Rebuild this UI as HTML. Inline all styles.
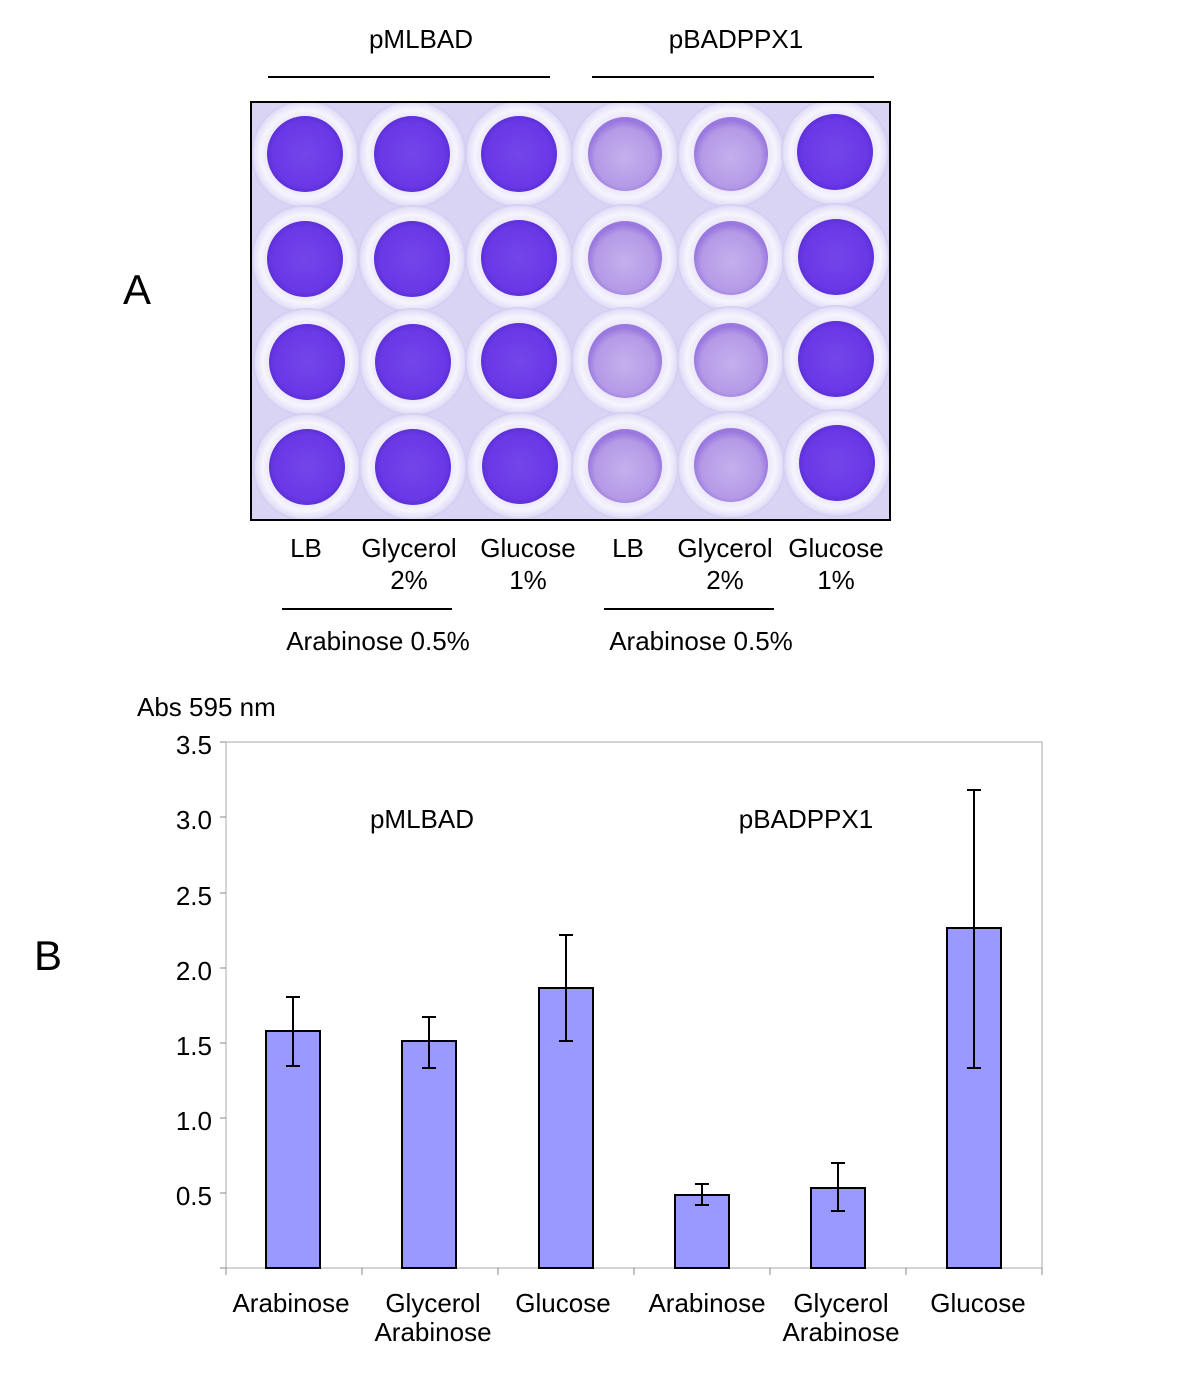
<!DOCTYPE html>
<html><head><meta charset="utf-8"><style>
html,body{margin:0;padding:0;background:#fff;}
svg{display:block;}
text{font-family:"Liberation Sans",Arial,sans-serif;fill:#000;}
</style></head><body>
<svg width="1200" height="1378" viewBox="0 0 1200 1378" xmlns="http://www.w3.org/2000/svg">
<defs>
<radialGradient id="dark" cx="50%" cy="50%" r="50%">
<stop offset="0" stop-color="#7445ea"/><stop offset="0.85" stop-color="#6a38e6"/><stop offset="1" stop-color="#5d30d8"/>
</radialGradient>
<radialGradient id="light" cx="50%" cy="55%" r="50%">
<stop offset="0" stop-color="#c4b0ee"/><stop offset="0.8" stop-color="#b49ae6"/><stop offset="1" stop-color="#9a78e0"/>
</radialGradient>
<radialGradient id="ring" cx="50%" cy="50%" r="50%">
<stop offset="0.65" stop-color="#e8e4f8"/><stop offset="0.82" stop-color="#f6f4fd"/><stop offset="0.95" stop-color="#e4dff8"/><stop offset="1" stop-color="#cfc8f0"/>
</radialGradient>
<clipPath id="plate"><rect x="251" y="102" width="639" height="418"/></clipPath>
</defs>
<text x="421" y="48" font-size="26" text-anchor="middle">pMLBAD</text>
<text x="736" y="48" font-size="26" text-anchor="middle">pBADPPX1</text>
<line x1="268" y1="77" x2="550" y2="77" stroke="#000" stroke-width="2"/>
<line x1="592" y1="77" x2="874" y2="77" stroke="#000" stroke-width="2"/>
<text x="137" y="304" font-size="42" text-anchor="middle">A</text>
<rect x="251" y="102" width="639" height="418" fill="#d9d4f3" stroke="#000" stroke-width="2"/>
<g clip-path="url(#plate)">
<circle cx="305" cy="154" r="54" fill="url(#ring)"/><circle cx="412" cy="154" r="54" fill="url(#ring)"/><circle cx="519" cy="154" r="54" fill="url(#ring)"/><circle cx="625" cy="154" r="54" fill="url(#ring)"/><circle cx="731" cy="154" r="54" fill="url(#ring)"/><circle cx="835" cy="152" r="54" fill="url(#ring)"/>
<circle cx="305" cy="259" r="54" fill="url(#ring)"/><circle cx="412" cy="259" r="54" fill="url(#ring)"/><circle cx="519" cy="258" r="54" fill="url(#ring)"/><circle cx="625" cy="258" r="54" fill="url(#ring)"/><circle cx="731" cy="258" r="54" fill="url(#ring)"/><circle cx="836" cy="257" r="54" fill="url(#ring)"/>
<circle cx="307" cy="362" r="54" fill="url(#ring)"/><circle cx="413" cy="362" r="54" fill="url(#ring)"/><circle cx="519" cy="361" r="54" fill="url(#ring)"/><circle cx="625" cy="361" r="54" fill="url(#ring)"/><circle cx="731" cy="360" r="54" fill="url(#ring)"/><circle cx="836" cy="359" r="54" fill="url(#ring)"/>
<circle cx="307" cy="467" r="54" fill="url(#ring)"/><circle cx="413" cy="467" r="54" fill="url(#ring)"/><circle cx="520" cy="466" r="54" fill="url(#ring)"/><circle cx="625" cy="466" r="54" fill="url(#ring)"/><circle cx="731" cy="465" r="54" fill="url(#ring)"/><circle cx="837" cy="463" r="54" fill="url(#ring)"/>

<circle cx="305" cy="154" r="38" fill="url(#dark)"/><circle cx="412" cy="154" r="38" fill="url(#dark)"/><circle cx="519" cy="154" r="38" fill="url(#dark)"/><circle cx="625" cy="154" r="37" fill="url(#light)"/><circle cx="731" cy="154" r="37" fill="url(#light)"/><circle cx="835" cy="152" r="38" fill="url(#dark)"/>
<circle cx="305" cy="259" r="38" fill="url(#dark)"/><circle cx="412" cy="259" r="38" fill="url(#dark)"/><circle cx="519" cy="258" r="38" fill="url(#dark)"/><circle cx="625" cy="258" r="37" fill="url(#light)"/><circle cx="731" cy="258" r="37" fill="url(#light)"/><circle cx="836" cy="257" r="38" fill="url(#dark)"/>
<circle cx="307" cy="362" r="38" fill="url(#dark)"/><circle cx="413" cy="362" r="38" fill="url(#dark)"/><circle cx="519" cy="361" r="38" fill="url(#dark)"/><circle cx="625" cy="361" r="37" fill="url(#light)"/><circle cx="731" cy="360" r="37" fill="url(#light)"/><circle cx="836" cy="359" r="38" fill="url(#dark)"/>
<circle cx="307" cy="467" r="38" fill="url(#dark)"/><circle cx="413" cy="467" r="38" fill="url(#dark)"/><circle cx="520" cy="466" r="38" fill="url(#dark)"/><circle cx="625" cy="466" r="37" fill="url(#light)"/><circle cx="731" cy="465" r="37" fill="url(#light)"/><circle cx="837" cy="463" r="38" fill="url(#dark)"/>
</g>
<rect x="251" y="102" width="639" height="418" fill="none" stroke="#000" stroke-width="2"/>
<g font-size="26" text-anchor="middle">
<text x="306" y="557">LB</text>
<text x="409" y="557">Glycerol</text><text x="409" y="589">2%</text>
<text x="528" y="557">Glucose</text><text x="528" y="589">1%</text>
<text x="628" y="557">LB</text>
<text x="725" y="557">Glycerol</text><text x="725" y="589">2%</text>
<text x="836" y="557">Glucose</text><text x="836" y="589">1%</text>
<text x="378" y="650">Arabinose 0.5%</text>
<text x="701" y="650">Arabinose 0.5%</text>
</g>
<line x1="282" y1="609" x2="452" y2="609" stroke="#000" stroke-width="2"/>
<line x1="604" y1="609" x2="774" y2="609" stroke="#000" stroke-width="2"/>

<text x="48" y="970" font-size="42" text-anchor="middle">B</text>
<text x="137" y="716" font-size="26">Abs 595 nm</text>
<rect x="226" y="742" width="816" height="526" fill="none" stroke="#a8a8a8" stroke-width="1"/>
<g stroke="#888" stroke-width="1">
<line x1="220" y1="742" x2="226" y2="742"/><line x1="220" y1="817" x2="226" y2="817"/><line x1="220" y1="893" x2="226" y2="893"/><line x1="220" y1="968" x2="226" y2="968"/><line x1="220" y1="1043" x2="226" y2="1043"/><line x1="220" y1="1118" x2="226" y2="1118"/><line x1="220" y1="1193" x2="226" y2="1193"/><line x1="220" y1="1268" x2="226" y2="1268"/>
<line x1="226" y1="1268" x2="226" y2="1275"/><line x1="362" y1="1268" x2="362" y2="1275"/><line x1="498" y1="1268" x2="498" y2="1275"/><line x1="634" y1="1268" x2="634" y2="1275"/><line x1="770" y1="1268" x2="770" y2="1275"/><line x1="906" y1="1268" x2="906" y2="1275"/><line x1="1042" y1="1268" x2="1042" y2="1275"/>
</g>
<g font-size="26" text-anchor="end">
<text x="212" y="754">3.5</text><text x="212" y="829">3.0</text><text x="212" y="905">2.5</text><text x="212" y="980">2.0</text><text x="212" y="1055">1.5</text><text x="212" y="1130">1.0</text><text x="212" y="1205">0.5</text>
</g>
<text x="422" y="828" font-size="26" text-anchor="middle">pMLBAD</text>
<text x="806" y="828" font-size="26" text-anchor="middle">pBADPPX1</text>
<g fill="#9999ff" stroke="#000" stroke-width="2">
<rect x="266" y="1031" width="54" height="237"/>
<rect x="402" y="1041" width="54" height="227"/>
<rect x="539" y="988" width="54" height="280"/>
<rect x="675" y="1195" width="54" height="73"/>
<rect x="811" y="1188" width="54" height="80"/>
<rect x="947" y="928" width="54" height="340"/>
</g>
<g stroke="#000" stroke-width="2">
<line x1="293" y1="997" x2="293" y2="1066"/><line x1="286" y1="997" x2="300" y2="997"/><line x1="286" y1="1066" x2="300" y2="1066"/>
<line x1="429" y1="1017" x2="429" y2="1068"/><line x1="422" y1="1017" x2="436" y2="1017"/><line x1="422" y1="1068" x2="436" y2="1068"/>
<line x1="566" y1="935" x2="566" y2="1041"/><line x1="559" y1="935" x2="573" y2="935"/><line x1="559" y1="1041" x2="573" y2="1041"/>
<line x1="702" y1="1184" x2="702" y2="1205"/><line x1="695" y1="1184" x2="709" y2="1184"/><line x1="695" y1="1205" x2="709" y2="1205"/>
<line x1="838" y1="1163" x2="838" y2="1211"/><line x1="831" y1="1163" x2="845" y2="1163"/><line x1="831" y1="1211" x2="845" y2="1211"/>
<line x1="974" y1="790" x2="974" y2="1068"/><line x1="967" y1="790" x2="981" y2="790"/><line x1="967" y1="1068" x2="981" y2="1068"/>
</g>
<g font-size="26" text-anchor="middle">
<text x="291" y="1312">Arabinose</text>
<text x="433" y="1312">Glycerol</text><text x="433" y="1341">Arabinose</text>
<text x="563" y="1312">Glucose</text>
<text x="707" y="1312">Arabinose</text>
<text x="841" y="1312">Glycerol</text><text x="841" y="1341">Arabinose</text>
<text x="978" y="1312">Glucose</text>
</g>
</svg>
</body></html>
